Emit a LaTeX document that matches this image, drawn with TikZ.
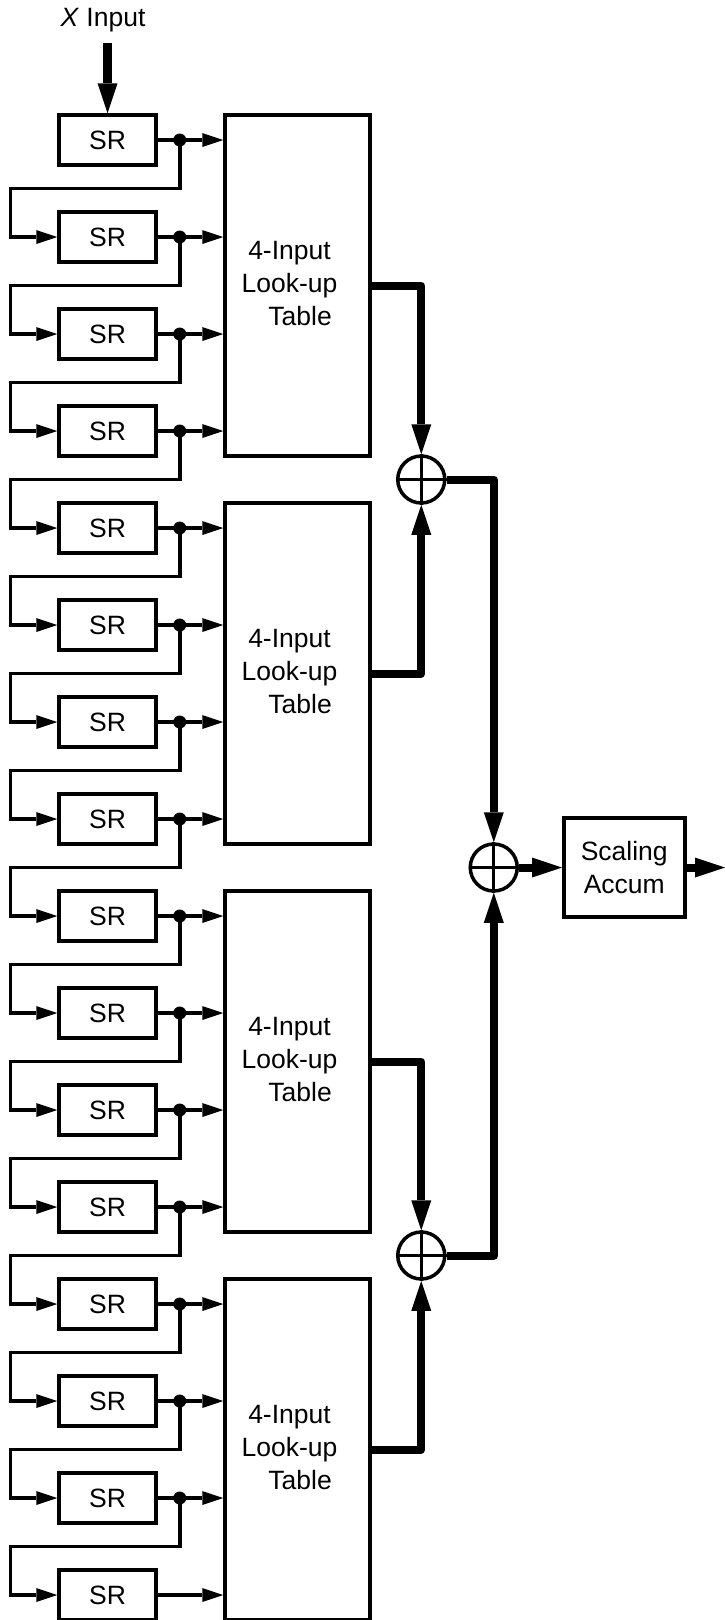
\documentclass[tikz,border=0pt]{standalone}
\usepackage{fontspec}
\setmainfont{Liberation Sans}
\usetikzlibrary{calc,positioning,arrows.meta}

\tikzset{
  srbox/.style={draw, line width=3.5pt, minimum width=97pt, minimum height=50pt, inner sep=0pt},
  lutbox/.style={draw, line width=3.5pt, minimum width=145pt, minimum height=341pt, inner sep=0pt},
  adder/.style={draw, circle, line width=3.5pt, minimum size=47pt, inner sep=0pt},
  tapdot/.style={circle, fill, inner sep=0pt, minimum size=13pt},
  sig/.style={line width=3.5pt, -{Triangle[length=21pt, width=14pt, line width=0pt]}},
  bus/.style={line width=8pt, line join=round, -{Triangle[length=30pt, width=20pt, line width=0pt]}},
}

\begin{document}
\begin{tikzpicture}[x=1pt, y=-1pt, font=\fontsize{26.5}{33}\selectfont]
	\useasboundingbox (0,0) rectangle (725,1620);

	% input
	\node (xin) at (103, 20) {\textit{X} Input};
	\coordinate (xtop) at (107.5, 43);

	% shift registers
	\foreach \i in {1,...,16} {
		\node[srbox] (sr\i) at (107.5, {140+(\i-1)*97}) {SR};
	}

	% look-up tables
	\foreach \j/\k in {1/1, 2/5, 3/9, 4/13} {
		\node[lutbox] (lut\j) at (297.5, {140+(\k-1)*97+145.5}) {};
		\node[align=center] (tab\j) at ($(lut\j.center)+(-8,-2)$) {4-Input\\Look-up\\\hspace*{0.8em}Table};
	}

	% taps and feedback
	\foreach \i in {1,...,15} {
		\pgfmathtruncatemacro{\n}{\i+1}
		\node[tapdot] (tap\i) at ($(sr\i.east)+(22,0)$) {};
		\draw[sig] (sr\i.east) -- (sr\i.east -| lut1.west);
		\draw[sig] (tap\i.center) -- ++(0,48.5) -- ($(sr\n.west)+(-47,-48.5)$)
			-- ($(sr\n.west)+(-47,0)$) -- (sr\n.west);
	}
	\draw[sig] (sr16.east) -- (sr16.east -| lut1.west);

	% adders
	\node[adder] (add1) at ($(lut1.south east)!0.5!(lut2.north east)+(49.5,0)$) {};
	\node[adder] (add2) at ($(lut2.south east)!0.5!(lut3.north east)+(122,0)$) {};
	\node[adder] (add3) at ($(lut3.south east)!0.5!(lut4.north east)+(49.5,0)$) {};
	\foreach \a in {add1, add2, add3} {
		\draw[line width=3pt] (\a.north) -- (\a.south) (\a.west) -- (\a.east);
	}

	\node[draw, line width=3.5pt, minimum width=121pt, minimum height=99pt, align=center, inner sep=0pt] (accum) at ($(add2)+(130.5,0)$) {Scaling\\Accum};
	\coordinate (out) at (725, 867.5);

	% sums
	\draw[bus, line width=9pt] (xtop) -- (sr1.north);
	\draw[bus] (lut1.east) -| (add1.north);
	\draw[bus] (lut2.east) -| (add1.south);
	\draw[bus] (lut3.east) -| (add3.north);
	\draw[bus] (lut4.east) -| (add3.south);
	\draw[bus] (add1.east) -| (add2.north);
	\draw[bus] (add3.east) -| (add2.south);
	\draw[bus] (add2.east) -- (accum.west);
	\draw[bus] (accum.east) -- (out);
\end{tikzpicture}
\end{document}
